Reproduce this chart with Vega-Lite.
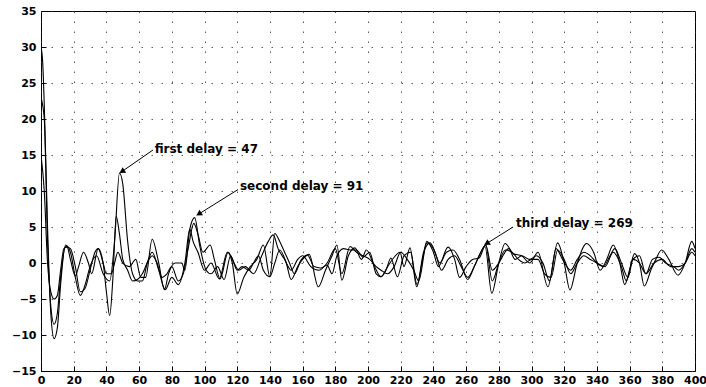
{
  "$schema": "https://vega.github.io/schema/vega-lite/v6.json",
  "width": 654,
  "height": 360,
  "autosize": {"type": "none"},
  "padding": {"left": 41, "top": 11, "right": 11, "bottom": 16},
  "background": "white",
  "config": {
    "view": {"stroke": "black", "strokeWidth": 1},
    "axis": {
      "labelFont": "DejaVu Sans",
      "labelFontWeight": "bold",
      "labelFontSize": 11,
      "labelColor": "black",
      "labelOverlap": false,
      "labelFlush": false,
      "domain": false,
      "tickColor": "black",
      "tickSize": -5,
      "grid": true,
      "gridColor": "#333333",
      "gridDash": [1.5, 8.5],
      "gridOpacity": 0.8,
      "title": null
    },
    "axisX": {"labelPadding": 8},
    "axisY": {"labelPadding": 10}
  },
  "datasets": {
    "curves": [
      {"s":"A","x":0,"y":30},{"s":"A","x":1,"y":28},{"s":"A","x":2,"y":22},{"s":"A","x":4,"y":5},{"s":"A","x":6,"y":-7},{"s":"A","x":8,"y":-10.5},{"s":"A","x":10,"y":-9},{"s":"A","x":12,"y":-3},{"s":"A","x":15,"y":2.5},{"s":"A","x":18,"y":1.5},{"s":"A","x":21,"y":-2},{"s":"A","x":24,"y":-4.5},{"s":"A","x":27,"y":-3},{"s":"A","x":30,"y":-0.5},{"s":"A","x":34,"y":1},{"s":"A","x":38,"y":-1.5},{"s":"A","x":42,"y":-2.5},{"s":"A","x":45,"y":3},{"s":"A","x":48,"y":12.5},{"s":"A","x":50,"y":11},{"s":"A","x":53,"y":3},{"s":"A","x":56,"y":-1.5},{"s":"A","x":59,"y":-2.5},{"s":"A","x":62,"y":-2.5},{"s":"A","x":65,"y":0},{"s":"A","x":68,"y":1.5},{"s":"A","x":72,"y":-1},{"s":"A","x":76,"y":-3.7},{"s":"A","x":80,"y":-2},{"s":"A","x":84,"y":-3},{"s":"A","x":88,"y":0},{"s":"A","x":91,"y":4.7},{"s":"A","x":93,"y":3},{"s":"A","x":96,"y":1.5},{"s":"A","x":100,"y":-1},{"s":"A","x":104,"y":0},{"s":"A","x":109,"y":-2.2},{"s":"A","x":114,"y":1.5},{"s":"A","x":117,"y":0},{"s":"A","x":120,"y":-4.3},{"s":"A","x":124,"y":-2},{"s":"A","x":128,"y":-0.5},{"s":"A","x":132,"y":0.5},{"s":"A","x":136,"y":2.5},{"s":"A","x":140,"y":-1.9},{"s":"A","x":143,"y":0},{"s":"A","x":146,"y":1.8},{"s":"A","x":150,"y":0},{"s":"A","x":153,"y":-2.3},{"s":"A","x":157,"y":-0.5},{"s":"A","x":160,"y":0.5},{"s":"A","x":164,"y":1.2},{"s":"A","x":169.6,"y":-3.3},{"s":"A","x":174,"y":-1},{"s":"A","x":178,"y":1},{"s":"A","x":181,"y":2.5},{"s":"A","x":184,"y":-2.4},{"s":"A","x":188,"y":1},{"s":"A","x":192,"y":2.1},{"s":"A","x":196,"y":0.5},{"s":"A","x":199,"y":1.8},{"s":"A","x":204,"y":-0.5},{"s":"A","x":208,"y":-1.9},{"s":"A","x":212,"y":-0.5},{"s":"A","x":216,"y":0.8},{"s":"A","x":219.6,"y":1.5},{"s":"A","x":222,"y":-0.5},{"s":"A","x":225.7,"y":2.1},{"s":"A","x":229.8,"y":-3.3},{"s":"A","x":233,"y":0},{"s":"A","x":236,"y":3},{"s":"A","x":240,"y":1.5},{"s":"A","x":243,"y":-0.5},{"s":"A","x":249,"y":2.2},{"s":"A","x":253,"y":0.5},{"s":"A","x":256,"y":-2},{"s":"A","x":260,"y":-0.5},{"s":"A","x":264,"y":0.5},{"s":"A","x":268,"y":0.7},{"s":"A","x":271.6,"y":2.3},{"s":"A","x":275.7,"y":-4.2},{"s":"A","x":280,"y":0},{"s":"A","x":283.8,"y":2.7},{"s":"A","x":289,"y":1.3},{"s":"A","x":294,"y":1},{"s":"A","x":299,"y":0},{"s":"A","x":304,"y":1.5},{"s":"A","x":310,"y":-3.3},{"s":"A","x":316,"y":2.8},{"s":"A","x":320,"y":0},{"s":"A","x":323.5,"y":-3.75},{"s":"A","x":328,"y":0},{"s":"A","x":333.7,"y":2.7},{"s":"A","x":338,"y":1.5},{"s":"A","x":342,"y":-1},{"s":"A","x":346,"y":0.5},{"s":"A","x":350,"y":2.5},{"s":"A","x":354,"y":0},{"s":"A","x":357,"y":-3},{"s":"A","x":360,"y":-1},{"s":"A","x":363,"y":1.3},{"s":"A","x":366,"y":0},{"s":"A","x":369,"y":-3.2},{"s":"A","x":373,"y":-1},{"s":"A","x":376,"y":0.5},{"s":"A","x":379.6,"y":1.8},{"s":"A","x":384,"y":0.5},{"s":"A","x":389.6,"y":-1.7},{"s":"A","x":394,"y":0},{"s":"A","x":398,"y":3},{"s":"A","x":400,"y":2},
      {"s":"B","x":0,"y":23},{"s":"B","x":2,"y":20},{"s":"B","x":4,"y":3},{"s":"B","x":6,"y":-6},{"s":"B","x":8,"y":-8.5},{"s":"B","x":10,"y":-7},{"s":"B","x":12,"y":-2},{"s":"B","x":15,"y":2.3},{"s":"B","x":18,"y":2},{"s":"B","x":21,"y":-0.5},{"s":"B","x":24,"y":-4},{"s":"B","x":27,"y":-3.5},{"s":"B","x":30,"y":-1},{"s":"B","x":33,"y":1.5},{"s":"B","x":35,"y":2},{"s":"B","x":38,"y":0},{"s":"B","x":40,"y":-4},{"s":"B","x":42,"y":-7.3},{"s":"B","x":44,"y":-2},{"s":"B","x":46,"y":6.5},{"s":"B","x":48,"y":4},{"s":"B","x":50,"y":0.5},{"s":"B","x":53,"y":-1},{"s":"B","x":56,"y":-2.5},{"s":"B","x":59,"y":-2.3},{"s":"B","x":62,"y":-1.5},{"s":"B","x":66,"y":0.5},{"s":"B","x":68,"y":1},{"s":"B","x":71,"y":0},{"s":"B","x":74,"y":-2},{"s":"B","x":77,"y":-1.5},{"s":"B","x":80,"y":-0.5},{"s":"B","x":84,"y":-2.5},{"s":"B","x":87,"y":-1.5},{"s":"B","x":90,"y":2},{"s":"B","x":93.5,"y":5.5},{"s":"B","x":96,"y":4},{"s":"B","x":99,"y":1.5},{"s":"B","x":103.5,"y":2.5},{"s":"B","x":106,"y":0.5},{"s":"B","x":109.5,"y":-2.2},{"s":"B","x":114.5,"y":1.5},{"s":"B","x":118,"y":0},{"s":"B","x":121,"y":-1},{"s":"B","x":125,"y":-0.5},{"s":"B","x":130,"y":-1.5},{"s":"B","x":135,"y":1},{"s":"B","x":139,"y":3},{"s":"B","x":142,"y":3.9},{"s":"B","x":145,"y":2},{"s":"B","x":149,"y":0.5},{"s":"B","x":153,"y":-1},{"s":"B","x":157,"y":0.5},{"s":"B","x":160,"y":1},{"s":"B","x":165,"y":-0.5},{"s":"B","x":170,"y":-1},{"s":"B","x":175,"y":0},{"s":"B","x":180,"y":2},{"s":"B","x":184,"y":-1.5},{"s":"B","x":189,"y":2.3},{"s":"B","x":193,"y":1.5},{"s":"B","x":197,"y":1},{"s":"B","x":201,"y":0.5},{"s":"B","x":205,"y":-0.5},{"s":"B","x":208,"y":-1},{"s":"B","x":212,"y":-1.5},{"s":"B","x":216,"y":-0.5},{"s":"B","x":220,"y":1.5},{"s":"B","x":224,"y":0.5},{"s":"B","x":228,"y":-1},{"s":"B","x":231,"y":-2.5},{"s":"B","x":236,"y":2.8},{"s":"B","x":240,"y":2},{"s":"B","x":244,"y":0},{"s":"B","x":248,"y":1.5},{"s":"B","x":252,"y":1.8},{"s":"B","x":256,"y":0.5},{"s":"B","x":261,"y":-2.3},{"s":"B","x":265,"y":-0.5},{"s":"B","x":269,"y":1.5},{"s":"B","x":272,"y":2.5},{"s":"B","x":276,"y":-2.5},{"s":"B","x":280,"y":0},{"s":"B","x":284,"y":1.8},{"s":"B","x":288,"y":1.5},{"s":"B","x":292,"y":0.5},{"s":"B","x":296,"y":0},{"s":"B","x":300,"y":0.5},{"s":"B","x":304,"y":0.5},{"s":"B","x":308,"y":-1.5},{"s":"B","x":312,"y":-2},{"s":"B","x":316,"y":1.8},{"s":"B","x":320,"y":0.5},{"s":"B","x":324,"y":-1.5},{"s":"B","x":328,"y":0},{"s":"B","x":332,"y":1},{"s":"B","x":336,"y":0.5},{"s":"B","x":340,"y":0},{"s":"B","x":345,"y":-0.5},{"s":"B","x":350,"y":1.5},{"s":"B","x":355,"y":-0.5},{"s":"B","x":358,"y":-2.5},{"s":"B","x":362,"y":0.5},{"s":"B","x":366,"y":0},{"s":"B","x":370,"y":-1.5},{"s":"B","x":375,"y":0},{"s":"B","x":380,"y":0.5},{"s":"B","x":385,"y":-0.5},{"s":"B","x":390,"y":-0.5},{"s":"B","x":394,"y":0},{"s":"B","x":398,"y":1.5},{"s":"B","x":400,"y":1},
      {"s":"C","x":0,"y":15},{"s":"C","x":2,"y":10},{"s":"C","x":4,"y":0},{"s":"C","x":6,"y":-4},{"s":"C","x":8,"y":-5},{"s":"C","x":10,"y":-4.5},{"s":"C","x":12,"y":-1},{"s":"C","x":14,"y":2},{"s":"C","x":16,"y":2.2},{"s":"C","x":18,"y":0.5},{"s":"C","x":21,"y":-1.8},{"s":"C","x":23,"y":-0.5},{"s":"C","x":26,"y":1.5},{"s":"C","x":29,"y":0},{"s":"C","x":31,"y":-1.5},{"s":"C","x":35,"y":2},{"s":"C","x":38,"y":0},{"s":"C","x":40,"y":-1.5},{"s":"C","x":43,"y":-1.5},{"s":"C","x":45,"y":0},{"s":"C","x":47,"y":1.5},{"s":"C","x":50,"y":0},{"s":"C","x":54,"y":-0.5},{"s":"C","x":58,"y":0.5},{"s":"C","x":61,"y":-2},{"s":"C","x":64,"y":-2},{"s":"C","x":68,"y":3.3},{"s":"C","x":72,"y":0},{"s":"C","x":75.5,"y":-3.7},{"s":"C","x":78,"y":-1.5},{"s":"C","x":82,"y":0},{"s":"C","x":86,"y":0},{"s":"C","x":88,"y":-1},{"s":"C","x":91,"y":4.7},{"s":"C","x":94,"y":6.3},{"s":"C","x":97,"y":2.5},{"s":"C","x":101,"y":-1},{"s":"C","x":104,"y":-1.5},{"s":"C","x":108,"y":-0.5},{"s":"C","x":112,"y":-2.3},{"s":"C","x":116,"y":1},{"s":"C","x":120,"y":-1},{"s":"C","x":123,"y":-0.5},{"s":"C","x":127,"y":-1},{"s":"C","x":130,"y":0},{"s":"C","x":133,"y":1},{"s":"C","x":136,"y":-1},{"s":"C","x":140,"y":-1.9},{"s":"C","x":143,"y":4.1},{"s":"C","x":146,"y":3},{"s":"C","x":149,"y":1.5},{"s":"C","x":152,"y":0},{"s":"C","x":155,"y":-1.5},{"s":"C","x":159,"y":0.4},{"s":"C","x":163,"y":1.1},{"s":"C","x":167,"y":-0.5},{"s":"C","x":171,"y":-0.7},{"s":"C","x":175,"y":-0.3},{"s":"C","x":178,"y":-1.5},{"s":"C","x":181,"y":1},{"s":"C","x":185,"y":2},{"s":"C","x":189,"y":1.8},{"s":"C","x":193,"y":1.8},{"s":"C","x":197,"y":0.8},{"s":"C","x":201,"y":1.5},{"s":"C","x":205,"y":-1.5},{"s":"C","x":208,"y":-1.9},{"s":"C","x":211,"y":-1},{"s":"C","x":214,"y":0.7},{"s":"C","x":218,"y":-1.9},{"s":"C","x":222,"y":1},{"s":"C","x":226,"y":1.5},{"s":"C","x":230,"y":-3},{"s":"C","x":234,"y":1.5},{"s":"C","x":238,"y":2.8},{"s":"C","x":241,"y":1.5},{"s":"C","x":245,"y":-1},{"s":"C","x":249,"y":0.5},{"s":"C","x":253,"y":1},{"s":"C","x":257,"y":-0.5},{"s":"C","x":261,"y":-2},{"s":"C","x":265,"y":-0.5},{"s":"C","x":269,"y":1.5},{"s":"C","x":272,"y":2.5},{"s":"C","x":276,"y":-1},{"s":"C","x":280,"y":0},{"s":"C","x":286,"y":2},{"s":"C","x":290,"y":0.5},{"s":"C","x":294,"y":1},{"s":"C","x":299,"y":0.5},{"s":"C","x":303,"y":1},{"s":"C","x":307,"y":0},{"s":"C","x":311,"y":-2.5},{"s":"C","x":315,"y":2},{"s":"C","x":319,"y":0.5},{"s":"C","x":324,"y":-1},{"s":"C","x":328,"y":0.5},{"s":"C","x":332,"y":1.5},{"s":"C","x":336,"y":1},{"s":"C","x":340,"y":0},{"s":"C","x":344,"y":-0.5},{"s":"C","x":348,"y":1},{"s":"C","x":351,"y":2},{"s":"C","x":355,"y":0},{"s":"C","x":359,"y":-2},{"s":"C","x":362,"y":0.5},{"s":"C","x":366,"y":1},{"s":"C","x":370,"y":-1.5},{"s":"C","x":374,"y":0.5},{"s":"C","x":378,"y":0.8},{"s":"C","x":382,"y":0},{"s":"C","x":387,"y":-0.5},{"s":"C","x":390,"y":-1},{"s":"C","x":394,"y":0},{"s":"C","x":398,"y":2},{"s":"C","x":400,"y":1.5}
    ],
    "notes": [
      {"label": "first delay = 47", "tx": 69.5, "ty": 15.9, "sx": 68.5, "sy": 15.7, "px": 49.5, "py": 12.7},
      {"label": "second delay = 91", "tx": 121.7, "ty": 10.7, "sx": 120.5, "sy": 10.2, "px": 96.5, "py": 6.8},
      {"label": "third delay = 269", "tx": 290.5, "ty": 5.6, "sx": 288.7, "sy": 5.0, "px": 272.6, "py": 2.7}
    ]
  },
  "layer": [
    {
      "data": {"name": "curves"},
      "mark": {"type": "line", "color": "black", "strokeWidth": 1.1, "interpolate": "monotone", "clip": true},
      "encoding": {
        "x": {"field": "x", "type": "quantitative", "scale": {"domain": [0, 400], "nice": false},
              "axis": {"values": [0,20,40,60,80,100,120,140,160,180,200,220,240,260,280,300,320,340,360,380,400], "labelOverlap": false}},
        "y": {"field": "y", "type": "quantitative", "scale": {"domain": [-15, 35], "nice": false},
              "axis": {"values": [-15,-10,-5,0,5,10,15,20,25,30,35], "labelOverlap": false}},
        "detail": {"field": "s", "type": "nominal"}
      }
    },
    {
      "data": {"name": "notes"},
      "mark": {"type": "rule", "color": "black", "strokeWidth": 1},
      "encoding": {
        "x": {"field": "sx", "type": "quantitative",
              "axis": {"values": [0,20,40,60,80,100,120,140,160,180,200,220,240,260,280,300,320,340,360,380,400], "labelOverlap": false}},
        "y": {"field": "sy", "type": "quantitative",
              "axis": {"values": [-15,-10,-5,0,5,10,15,20,25,30,35], "labelOverlap": false}},
        "x2": {"field": "px"},
        "y2": {"field": "py"}
      }
    },
    {
      "data": {"name": "notes"},
      "mark": {"type": "point", "shape": "triangle-up", "filled": true, "color": "black", "size": 45, "angle": 238, "opacity": 1},
      "encoding": {
        "x": {"field": "px", "type": "quantitative",
              "axis": {"values": [0,20,40,60,80,100,120,140,160,180,200,220,240,260,280,300,320,340,360,380,400], "labelOverlap": false}},
        "y": {"field": "py", "type": "quantitative",
              "axis": {"values": [-15,-10,-5,0,5,10,15,20,25,30,35], "labelOverlap": false}}
      }
    },
    {
      "data": {"name": "notes"},
      "mark": {"type": "text", "align": "left", "baseline": "middle", "font": "DejaVu Sans", "fontWeight": "bold", "fontSize": 12, "color": "black"},
      "encoding": {
        "x": {"field": "tx", "type": "quantitative",
              "axis": {"values": [0,20,40,60,80,100,120,140,160,180,200,220,240,260,280,300,320,340,360,380,400], "labelOverlap": false}},
        "y": {"field": "ty", "type": "quantitative",
              "axis": {"values": [-15,-10,-5,0,5,10,15,20,25,30,35], "labelOverlap": false}},
        "text": {"field": "label", "type": "nominal"}
      }
    }
  ]
}
